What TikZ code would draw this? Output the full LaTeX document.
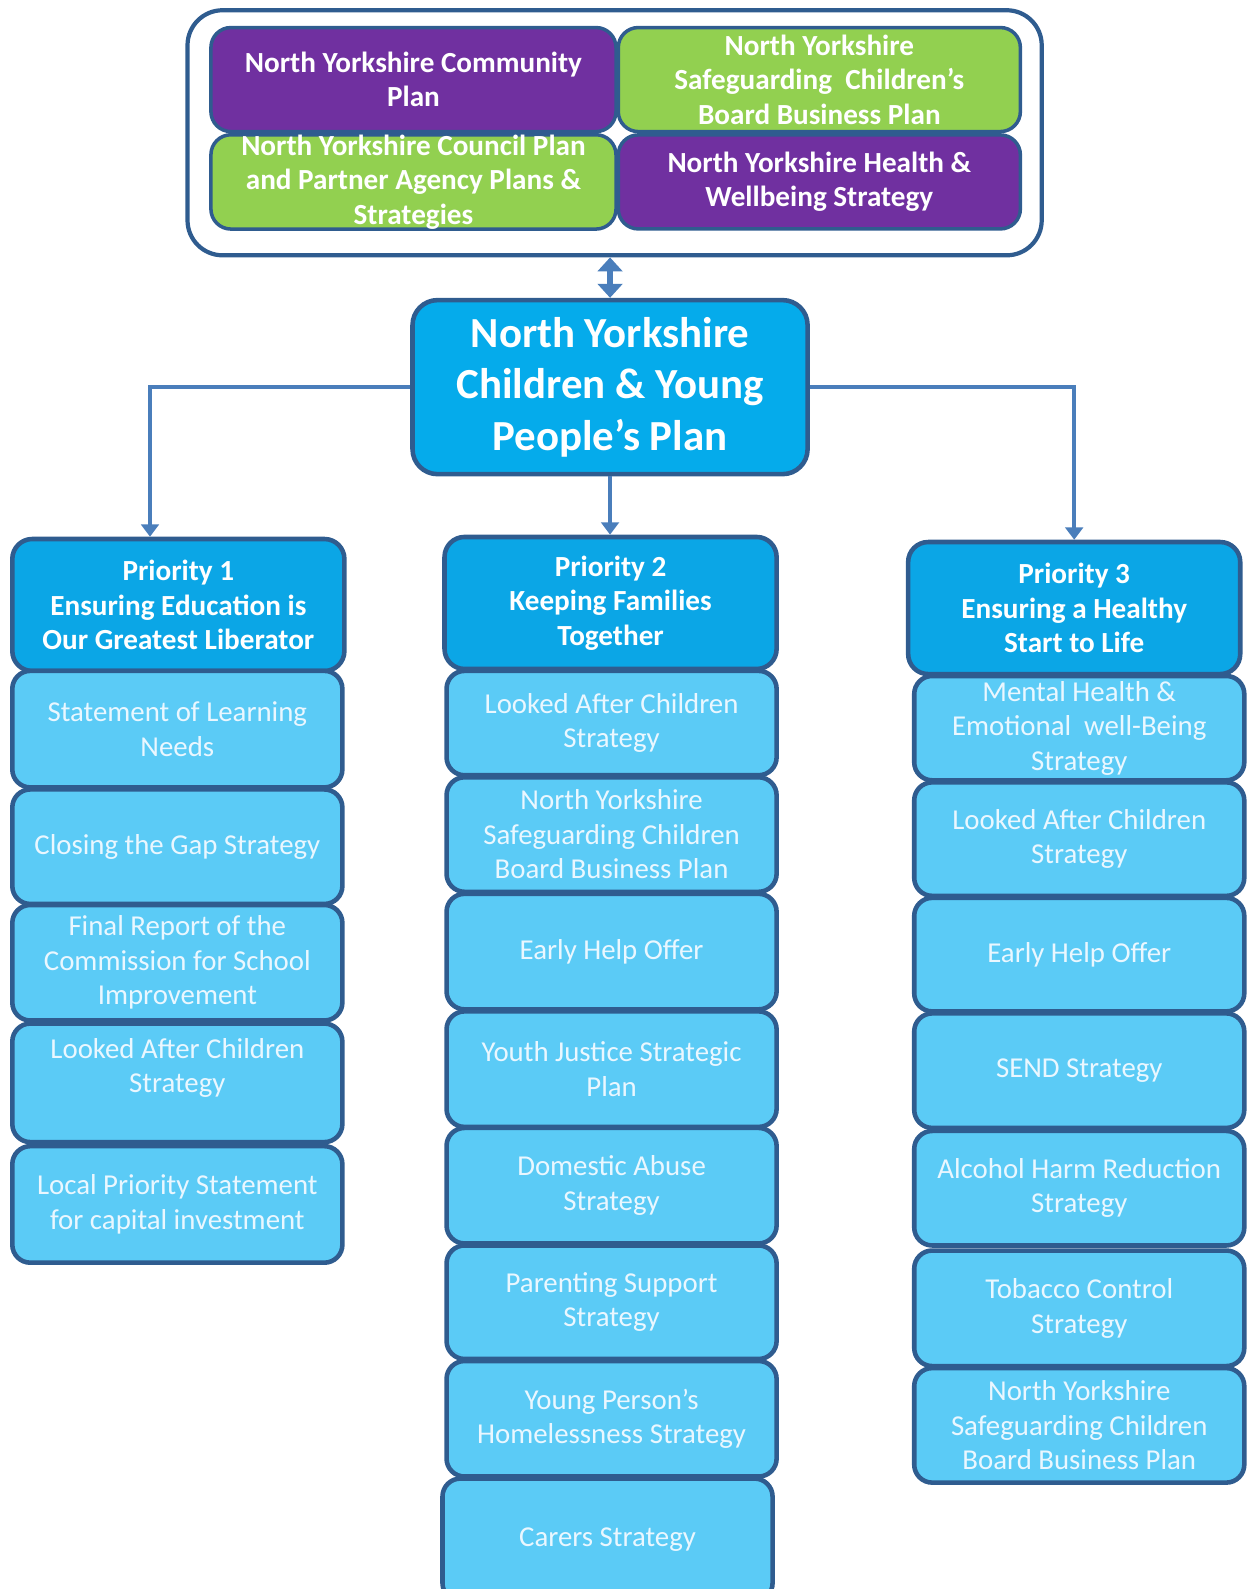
\documentclass[tikz,border=0pt]{standalone}
\usepackage{fontspec}
\setmainfont{Carlito}
\usetikzlibrary{positioning, arrows.meta, calc}
\definecolor{nypurple}{HTML}{7030A0}
\definecolor{nygreen}{HTML}{92D050}
\definecolor{nycentre}{HTML}{05ABEB}
\definecolor{nyhead}{HTML}{0BA6E6}
\definecolor{nyitem}{HTML}{5BCBF6}
\definecolor{nyedge}{HTML}{2F5C8F}
\definecolor{nyline}{HTML}{4A7EBB}
\definecolor{nytext}{HTML}{EAF7FF}

\begin{document}
\begin{tikzpicture}[x=0.01013cm, y=-0.01013cm,
        plan/.style={draw=nyedge, line width=1pt, rounded corners=0.2cm, text=white, align=center, inner sep=0pt, font=\bfseries\fontsize{8.3}{9.8}\selectfont},
        centre/.style={draw=nyedge, line width=1.3pt, rounded corners=0.25cm, fill=nycentre, text=white, align=center, minimum width=3.95cm, minimum height=1.74cm, font=\bfseries\fontsize{12.2}{14.7}\selectfont},
        head/.style={draw=nyedge, line width=1.3pt, rounded corners=0.2cm, fill=nyhead, text=white, align=center, minimum width=3.32cm, minimum height=1.32cm, font=\bfseries\fontsize{8.3}{9.8}\selectfont},
        item/.style={draw=nyedge, line width=1.3pt, rounded corners=0.18cm, fill=nyitem, text=nytext, align=center, minimum width=3.30cm, inner sep=1pt, font=\fontsize{8.2}{9.8}\selectfont},
        link/.style={nyline, line width=1.1pt, -{Triangle[width=5pt,length=3.5pt]}}]
      \useasboundingbox (0,0) rectangle (1231,1568);

      % plans feeding in
      \node[draw=nyedge, line width=1.2pt, rounded corners=0.35cm, minimum width=8.54cm, minimum height=2.45cm] (plans) at (606.5,131) {};
      \node[plan, fill=nypurple, minimum width=4.05cm, minimum height=1.04cm] (comm) at (408,78.5) {North Yorkshire Community\\Plan};
      \node[plan, fill=nygreen, minimum width=4.02cm, minimum height=1.04cm] (scbplan) at (808.5,78.5) {North Yorkshire\\Safeguarding\ \ Children’s\\Board Business Plan};
      \node[plan, fill=nygreen, minimum width=4.05cm, minimum height=0.94cm] (council) at (408,179.5) {North Yorkshire Council Plan\\and Partner Agency Plans \&\\Strategies};
      \node[plan, fill=nypurple, minimum width=4.02cm, minimum height=0.94cm] (hwb) at (808.5,179.5) {North Yorkshire Health \&\\Wellbeing Strategy};

      \node[centre] (cyp) at (602,382) {North Yorkshire\\Children \& Young\\People’s Plan};

      % priority 1
      \node[head] (p1) at (176,597) {Priority 1\\Ensuring Education is\\Our Greatest Liberator};
      \node[item, minimum height=1.165cm] (p1a) at (175,719.5) {Statement of Learning\\Needs};
      \node[item, minimum height=1.145cm] (p1b) at (175,835.5) {Closing the Gap Strategy};
      \node[item, minimum height=1.155cm] (p1c) at (175,950) {Final Report of the\\Commission for School\\Improvement};
      \node[item, minimum height=1.185cm] (p1d) at (175,1068.5) {Looked After Children\\Strategy\\~};
      \node[item, minimum height=1.165cm] (p1e) at (175,1188.5) {Local Priority Statement\\for capital investment};

      % priority 2
      \node[head] (p2) at (602.5,595) {Priority 2\\Keeping Families\\Together};
      \node[item, minimum height=1.043cm] (p2a) at (603.5,713.5) {Looked After Children\\Strategy};
      \node[item, minimum height=1.145cm] (p2b) at (603.5,823.5) {North Yorkshire\\Safeguarding Children\\Board Business Plan};
      \node[item, minimum height=1.155cm] (p2c) at (603.5,939) {Early Help Offer};
      \node[item, minimum height=1.155cm] (p2d) at (603.5,1055) {Youth Justice Strategic\\Plan};
      \node[item, minimum height=1.155cm] (p2e) at (603.5,1170) {Domestic Abuse\\Strategy};
      \node[item, minimum height=1.135cm] (p2f) at (603.5,1285) {Parenting Support\\Strategy};
      \node[item, minimum height=1.155cm] (p2g) at (603.5,1400) {Young Person’s\\Homelessness Strategy};
      \node[item, minimum height=1.226cm] (p2h) at (599.5,1519.5) {Carers Strategy};

      % priority 3
      \node[head] (p3) at (1060,600) {Priority 3\\Ensuring a Healthy\\Start to Life};
      \node[item, minimum height=1.043cm] (p3a) at (1065,718.5) {Mental Health \&\\Emotional\ \ well-Being\\Strategy};
      \node[item, minimum height=1.135cm] (p3b) at (1065,828) {Looked After Children\\Strategy};
      \node[item, minimum height=1.135cm] (p3c) at (1065,942) {Early Help Offer};
      \node[item, minimum height=1.145cm] (p3d) at (1065,1056.5) {SEND Strategy};
      \node[item, minimum height=1.145cm] (p3e) at (1065,1172.5) {Alcohol Harm Reduction\\Strategy};
      \node[item, minimum height=1.155cm] (p3f) at (1065,1291) {Tobacco Control\\Strategy};
      \node[item, minimum height=1.145cm] (p3g) at (1065,1406.5) {North Yorkshire\\Safeguarding Children\\Board Business Plan};

      \draw[nyline, line width=1.6pt, {Triangle[width=7pt,length=4pt]}-{Triangle[width=7pt,length=4pt]}] (plans.south -| cyp.north) -- (cyp.north);
      \draw[link] (cyp.west) -| ($(p1.north)+(-28,0)$);
      \draw[link] (cyp.south) -- (cyp.south |- p2.north);
      \draw[link] (cyp.east) -| (p3.north);
    \end{tikzpicture}
\end{document}
